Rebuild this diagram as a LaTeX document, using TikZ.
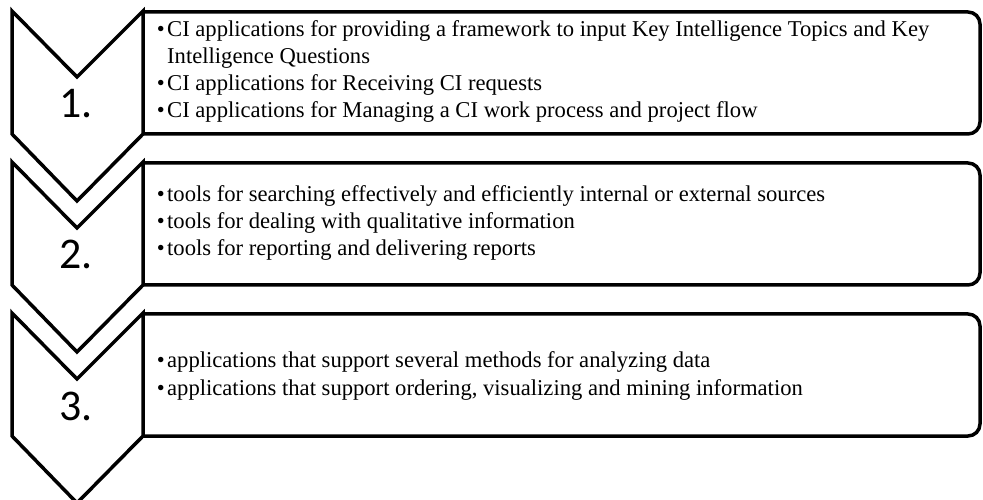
\documentclass[tikz,border=0pt]{standalone}
\usepackage{fontspec}
\setmainfont{Liberation Serif}
\newfontfamily\numfont{Carlito}
\newcommand\bul{\llap{\textbullet\hspace{2.5bp}}}
\begin{document}
\begin{tikzpicture}[x=1bp,y=-1bp,line join=miter]
\tikzset{
  outline/.style={draw=black, line width=3.5bp, fill=white},
  itemtext/.style={anchor=base west, inner sep=0pt, font=\fontsize{22.7}{27}\selectfont},
  stepnum/.style={anchor=base, inner sep=0pt, font=\numfont\fontsize{44}{50}\selectfont},
}
\useasboundingbox (0,0) rectangle (983,500);

% item boxes (square on the left, rounded on the right) and chevrons
\foreach \t in {11,162,313}{
  \draw[outline, rounded corners=12bp] (143,\t+1) -- (980,\t+1) -- (980,\t+123) -- (143,\t+123);
  \draw[outline] (12,\t) -- (77,\t+66) -- (143,\t) -- (143,\t+123) -- (77,\t+190) -- (12,\t+123) -- cycle;
}

% step numbers
\node[stepnum] (n1) at (76,118) {1.};
\node[stepnum] (n2) at (76,269) {2.};
\node[stepnum] (n3) at (76,420) {3.};

% step 1
\node[itemtext] (t1a) at (167,37) {\bul CI applications for providing a framework to input Key Intelligence Topics and Key};
\node[itemtext] (t1b) at (167,64) {Intelligence Questions};
\node[itemtext] (t1c) at (167,91) {\bul CI applications for Receiving CI requests};
\node[itemtext] (t1d) at (167,118) {\bul CI applications for Managing a CI work process and project flow};

% step 2
\node[itemtext] (t2a) at (167,202) {\bul tools for searching effectively and efficiently internal or external sources};
\node[itemtext] (t2b) at (167,229) {\bul tools for dealing with qualitative information};
\node[itemtext] (t2c) at (167,256) {\bul tools for reporting and delivering reports};

% step 3
\node[itemtext] (t3a) at (167,368) {\bul applications that support several methods for analyzing data};
\node[itemtext] (t3b) at (167,395) {\bul applications that support ordering, visualizing and mining information};
\end{tikzpicture}
\end{document}
